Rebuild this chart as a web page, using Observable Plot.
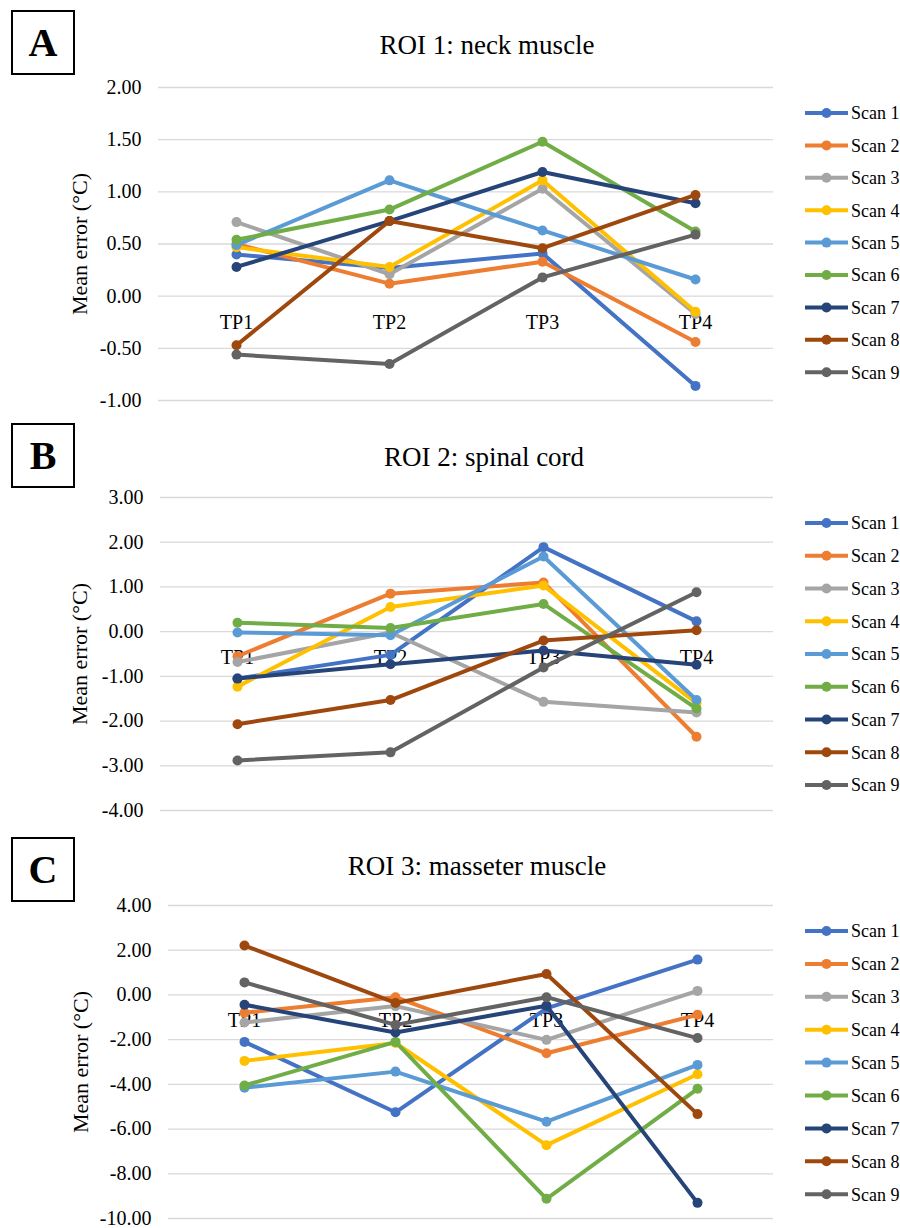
<!DOCTYPE html>
<html><head><meta charset="utf-8">
<script src="https://cdn.jsdelivr.net/npm/d3@7"></script>
<script src="https://cdn.jsdelivr.net/npm/@observablehq/plot@0.6"></script>
<style>
body{margin:0;background:#fff;font-family:"Liberation Serif",serif;}
#root{position:relative;width:900px;height:1228px;overflow:hidden;background:#fff;}
.box{position:absolute;left:11px;border:2px solid #000;box-sizing:border-box;width:64px;height:65px;display:flex;align-items:center;justify-content:center;font-weight:bold;font-size:40px;line-height:1;}
.title{position:absolute;transform:translate(-50%,-50%);font-size:27px;white-space:nowrap;}
.plotwrap{position:absolute;left:0;}
.legend{position:absolute;left:798px;}
</style></head><body><div id="root"></div><script>
// ---- data ----
const timepoints = ["TP1", "TP2", "TP3", "TP4"];
const scans = ["Scan 1", "Scan 2", "Scan 3", "Scan 4", "Scan 5", "Scan 6", "Scan 7", "Scan 8", "Scan 9"];
const scanColors = ["#4472C4", "#ED7D31", "#A5A5A5", "#FFC000", "#5B9BD5", "#70AD47", "#264478", "#9E480E", "#636363"];

const panelLetters = ["A", "B", "C"];
const panelTitles = ["ROI 1: neck muscle", "ROI 2: spinal cord", "ROI 3: masseter muscle"];
const yLabel = "Mean error (°C)";

// rows = Scan 1..9, columns = TP1..TP4
const roi1Values = [
  [0.40, 0.27, 0.41, -0.86],
  [0.50, 0.12, 0.33, -0.44],
  [0.71, 0.21, 1.03, -0.17],
  [0.47, 0.28, 1.11, -0.15],
  [0.49, 1.11, 0.63, 0.16],
  [0.54, 0.83, 1.48, 0.62],
  [0.28, 0.72, 1.19, 0.89],
  [-0.47, 0.72, 0.46, 0.97],
  [-0.56, -0.65, 0.18, 0.59]
];
const roi2Values = [
  [-1.05, -0.52, 1.89, 0.23],
  [-0.55, 0.85, 1.10, -2.35],
  [-0.68, -0.02, -1.57, -1.81],
  [-1.23, 0.55, 1.03, -1.60],
  [-0.02, -0.08, 1.68, -1.53],
  [0.20, 0.08, 0.62, -1.72],
  [-1.05, -0.73, -0.42, -0.74],
  [-2.07, -1.53, -0.20, 0.03],
  [-2.88, -2.70, -0.80, 0.88]
];
const roi3Values = [
  [-2.10, -5.25, -0.60, 1.58],
  [-0.80, -0.10, -2.61, -0.89],
  [-1.23, -0.50, -2.01, 0.18],
  [-2.95, -2.15, -6.72, -3.55],
  [-4.15, -3.43, -5.67, -3.13],
  [-4.05, -2.10, -9.12, -4.20],
  [-0.44, -1.68, -0.48, -9.30],
  [2.21, -0.36, 0.94, -5.33],
  [0.56, -1.34, -0.10, -1.93]
];

const roi1Ticks = [2.0, 1.5, 1.0, 0.5, 0.0, -0.5, -1.0];
const roi2Ticks = [3, 2, 1, 0, -1, -2, -3, -4];
const roi3Ticks = [4, 2, 0, -2, -4, -6, -8, -10];

// ---- layout ----
const panels = [
  {values: roi1Values, ticks: roi1Ticks, gridTop: 87, boxTop: 10, titleX: 487, titleY: 45, ml: 158, labelX: 79, rowH: 32.4},
  {values: roi2Values, ticks: roi2Ticks, gridTop: 497, boxTop: 423, titleX: 484, titleY: 457, ml: 160, labelX: 79, rowH: 32.75},
  {values: roi3Values, ticks: roi3Ticks, gridTop: 905, boxTop: 837, titleX: 477, titleY: 866, ml: 168, labelX: 80, rowH: 32.9}
];

const FONT = "Liberation Serif";
const root = document.getElementById("root");
const plotH = 313, mt = 20, mb = 20;

panels.forEach((p, k) => {
  const box = document.createElement("div");
  box.className = "box";
  box.style.top = p.boxTop + "px";
  box.textContent = panelLetters[k];
  root.appendChild(box);

  const title = document.createElement("div");
  title.className = "title";
  title.style.left = p.titleX + "px";
  title.style.top = p.titleY + "px";
  title.textContent = panelTitles[k];
  root.appendChild(title);

  const data = [];
  p.values.forEach((row, i) => row.forEach((v, j) => data.push({scan: scans[i], tp: timepoints[j], v})));

  const seriesMarks = scans.flatMap(s => {
    const d = data.filter(r => r.scan === s);
    return [
      Plot.line(d, {x: "tp", y: "v", stroke: "scan", strokeWidth: 4}),
      Plot.dot(d, {x: "tp", y: "v", fill: "scan", r: 5})
    ];
  });

  const chart = Plot.plot({
    width: 900,
    height: plotH + mt + mb,
    marginTop: mt,
    marginBottom: mb,
    marginLeft: p.ml,
    marginRight: 127,
    style: {fontFamily: FONT, fontSize: "20px", color: "#000", background: "transparent", overflow: "visible"},
    x: {type: "point", domain: timepoints, padding: 0.5, axis: null},
    y: {domain: [d3.min(p.ticks), d3.max(p.ticks)], axis: null},
    color: {domain: scans, range: scanColors},
    marks: [
      Plot.ruleY(p.ticks, {stroke: "#d9d9d9", strokeWidth: 1.3}),
      Plot.text(p.ticks, {y: d => d, frameAnchor: "left", textAnchor: "end", dx: -17, text: d => d.toFixed(2), fontSize: 20, fontFamily: FONT, fill: "#000"}),
      Plot.text(timepoints, {x: d => d, y: () => 0, dy: 26, fontSize: 20, fontFamily: FONT, fill: "#000"}),
      ...seriesMarks,
      Plot.text([yLabel], {frameAnchor: "left", textAnchor: "middle", rotate: -90, dx: p.labelX - p.ml, fontSize: 22, fontFamily: FONT, fill: "#000"})
    ]
  });
  const wrap = document.createElement("div");
  wrap.className = "plotwrap";
  wrap.style.top = (p.gridTop - mt) + "px";
  wrap.appendChild(chart);
  root.appendChild(wrap);

  // legend
  const leg = d3.create("svg").attr("width", 102).attr("height", p.rowH * 9 + 10);
  scans.forEach((s, i) => {
    const y = 16 + i * p.rowH;
    const g = leg.append("g").attr("transform", `translate(0,${y})`);
    g.append("line").attr("x1", 7).attr("x2", 50).attr("y1", 0).attr("y2", 0).attr("stroke", scanColors[i]).attr("stroke-width", 4);
    g.append("circle").attr("cx", 28.5).attr("cy", 0).attr("r", 5).attr("fill", scanColors[i]);
    g.append("text").attr("x", 53).attr("y", 0).attr("dy", "0.35em").attr("font-size", 18)
      .attr("font-family", FONT).text(s);
  });
  const lw = document.createElement("div");
  lw.className = "legend";
  lw.style.top = (p.gridTop + 26 - 16) + "px";
  lw.appendChild(leg.node());
  root.appendChild(lw);
});
</script></body></html>
